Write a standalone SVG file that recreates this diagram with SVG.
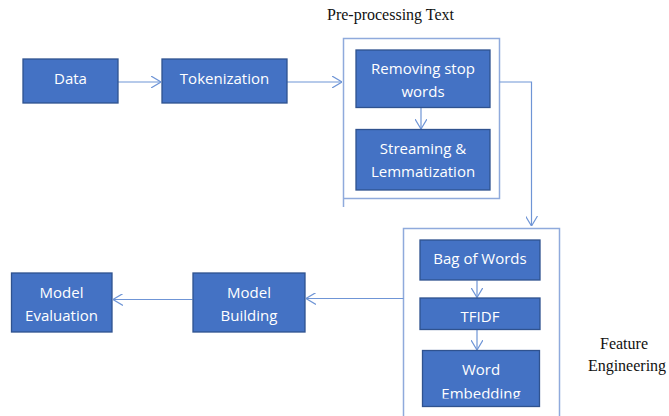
<svg xmlns="http://www.w3.org/2000/svg" width="669" height="416" viewBox="0 0 669 416">
<style>
.box{fill:#4472C4;stroke:#2F528F;stroke-width:1.3}
.lbl{fill:#fff;font-family:"Open Sans","Liberation Sans",sans-serif;font-size:15px;text-anchor:middle}
.frame{fill:none;stroke:#8FAADC;stroke-width:1.5}
.con{fill:none;stroke:#6F95D6;stroke-width:1.2}
.cap{fill:#111;font-family:"Liberation Serif","Times New Roman",serif;font-size:16px}
</style>
<defs>
<marker id="arr" viewBox="0 0 10 12" markerWidth="10" markerHeight="12" refX="10" refY="6" orient="auto" markerUnits="userSpaceOnUse">
<path d="M0,0 L10,6 L0,12" fill="none" stroke="#6F95D6" stroke-width="1.2"/>
</marker>
<clipPath id="clipEmb"><rect x="0" y="0" width="669" height="398.5"/></clipPath>
</defs>
<g id="frames">
<path class="frame" d="M343.5,207 V38.5 H499.5 V198.5 H343.5"/>
<path class="frame" d="M403.5,416 V228.5 H559.5 V416"/>
</g>
<text class="cap" x="327" y="20">Pre-processing Text</text>
<text class="cap" x="624" y="349" text-anchor="middle" font-size="16.5">Feature</text>
<text class="cap" x="627" y="371" text-anchor="middle" font-size="16.5">Engineering</text>
<g id="connectors">
<path class="con" d="M118,82 H161" marker-end="url(#arr)"/>
<path class="con" d="M287,82 H342" marker-end="url(#arr)"/>
<path class="con" d="M421,107.5 V129" marker-end="url(#arr)"/>
<path class="con" d="M499.5,82 H531.5 V226" marker-end="url(#arr)"/>
<path class="con" d="M477,280.5 V297.5" marker-end="url(#arr)"/>
<path class="con" d="M477,329.5 V350" marker-end="url(#arr)"/>
<path class="con" d="M403.5,298.5 H306" marker-end="url(#arr)"/>
<path class="con" d="M192.5,299.5 H113" marker-end="url(#arr)"/>
</g>
<g id="data">
<rect class="box" x="23" y="59" width="95" height="44"/>
<text class="lbl" x="70.5" y="83.5">Data</text>
</g>
<g id="tokenization">
<rect class="box" x="162" y="59" width="125" height="44"/>
<text class="lbl" x="224.5" y="83.5">Tokenization</text>
</g>
<g id="removing">
<rect class="box" x="356" y="50" width="134" height="57.5"/>
<text class="lbl" x="423" y="74">Removing stop</text>
<text class="lbl" x="423" y="97">words</text>
</g>
<g id="streaming">
<rect class="box" x="356" y="129.5" width="134" height="60.5"/>
<text class="lbl" x="423" y="153.5">Streaming &amp;</text>
<text class="lbl" x="423" y="177">Lemmatization</text>
</g>
<g id="bow">
<rect class="box" x="420" y="240" width="120" height="40"/>
<text class="lbl" x="480" y="264">Bag of Words</text>
</g>
<g id="tfidf">
<rect class="box" x="420" y="298" width="120" height="31.5"/>
<text class="lbl" x="480" y="321.5">TFIDF</text>
</g>
<g id="embedding">
<rect class="box" x="422.5" y="350.5" width="117" height="56"/>
<text class="lbl" x="481" y="374.5">Word</text>
<text class="lbl" x="481" y="398.5" clip-path="url(#clipEmb)">Embedding</text>
</g>
<g id="building">
<rect class="box" x="193" y="273" width="112" height="59"/>
<text class="lbl" x="249" y="297.5">Model</text>
<text class="lbl" x="249" y="321">Building</text>
</g>
<g id="evaluation">
<rect class="box" x="11.5" y="273" width="100.5" height="59"/>
<text class="lbl" x="61.5" y="297.5">Model</text>
<text class="lbl" x="61.5" y="321">Evaluation</text>
</g>
</svg>
